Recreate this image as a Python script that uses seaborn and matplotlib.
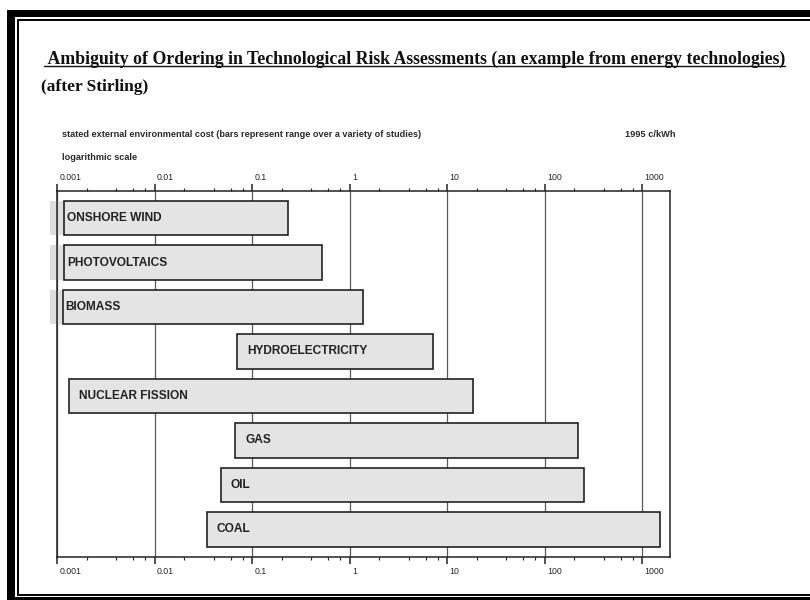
import numpy as np
import pandas as pd
import matplotlib
matplotlib.use("Agg")
import matplotlib.pyplot as plt
import matplotlib.ticker as mticker
from matplotlib.patches import Rectangle
from matplotlib.lines import Line2D
from matplotlib.transforms import ScaledTranslation, blended_transform_factory
import seaborn as sns

# Stated external environmental cost ranges, 1995 c/kWh (log scale)
technologies = ["ONSHORE WIND", "PHOTOVOLTAICS", "BIOMASS", "HYDROELECTRICITY",
                "NUCLEAR FISSION", "GAS", "OIL", "COAL"]
cost_low = [0.00118, 0.00118, 0.00114, 0.0695, 0.00132, 0.067, 0.0475, 0.034]
cost_high = [0.231, 0.52, 1.38, 7.06, 18.5, 219, 254, 1535]

decade_ticks = [0.001, 0.01, 0.1, 1, 10, 100, 1000]
decade_labels = ["0.001", "0.01", "0.1", "1", "10", "100", "1000"]

title_text = " Ambiguity of Ordering in Technological Risk Assessments (an example from energy technologies)"
subtitle_text = "(after Stirling)"
axis_note = "stated external environmental cost (bars represent range over a variety of studies)"
scale_note = "logarithmic scale"
unit_note = "1995 c/kWh"

sns.set_theme(style="white")
plt.rcParams["font.family"] = ["Liberation Sans", "DejaVu Sans"]

W, H = 810, 600
fig = plt.figure(figsize=(W / 100, H / 100), dpi=100)
fig.patch.set_facecolor("white")


def fx(px):
    return px / W


def fy(py):
    return 1 - py / H


def px_offset(dx, dy):
    return ScaledTranslation(dx / 100, dy / 100, fig.dpi_scale_trans)


ax = fig.add_axes([fx(57.3), fy(556.7), (670 - 57.3) / W, (556.7 - 190.7) / H])
ax.set_facecolor("white")

df = pd.DataFrame({"technology": technologies, "low": cost_low, "high": cost_high})
sns.barplot(data=df, x="high", y="technology", orient="h", color="#e4e4e4",
            saturation=1, edgecolor="#222222", linewidth=1.2, width=0.775,
            ax=ax, zorder=3)

# each bar spans the reported range, from the lowest to the highest estimate
for patch, lo, hi in zip(ax.patches, df["low"], df["high"]):
    patch.set_x(lo)
    patch.set_width(hi - lo)

ax.set_xscale("log")
ax.set_xlim(0.001, 1923)
ax.set_ylim(len(technologies) - 1 + 0.615, -0.615)
ax.set_xlabel("")
ax.set_ylabel("")
ax.set_yticks([])

ax.xaxis.set_major_locator(mticker.FixedLocator(decade_ticks))
ax.xaxis.set_major_formatter(mticker.NullFormatter())
ax.xaxis.set_minor_locator(mticker.LogLocator(base=10, subs=(2, 4, 6, 8)))
ax.xaxis.set_minor_formatter(mticker.NullFormatter())
ax.tick_params(axis="x", which="both", top=True, bottom=True, direction="out",
               colors="#222222", labeltop=False, labelbottom=False)
ax.tick_params(axis="x", which="major", length=5.3, width=1.1)
ax.tick_params(axis="x", which="minor", length=2.3, width=0.8)

ax.set_axisbelow(True)
ax.grid(axis="x", which="major", color="#5a5a5a", linewidth=0.9)
ax.grid(axis="y", visible=False)
for side in ["top", "bottom", "left", "right"]:
    ax.spines[side].set_visible(True)
    ax.spines[side].set_color("#222222")
    ax.spines[side].set_linewidth(1.1)

# decade labels, top and bottom, set just to the right of each tick
xt = blended_transform_factory(ax.transData, ax.transAxes)
for v, lab in zip(decade_ticks, decade_labels):
    ax.text(v, 1, lab, transform=xt + px_offset(2, 9), ha="left", va="bottom",
            fontsize=6.3, color="#262626")
    ax.text(v, 0, lab, transform=xt + px_offset(2, -10), ha="left", va="top",
            fontsize=6.3, color="#262626")

# soft grey haze at the left end of the first rows
haze_left = 10 ** (-3 - 7.3 / 97.5)
for i, lo in enumerate(cost_low[:3]):
    ax.add_patch(Rectangle((haze_left, i - 0.3875), lo - haze_left, 0.775,
                           facecolor="#d6d6d6", edgecolor="none", alpha=0.8,
                           zorder=1, clip_on=False))

# technology names inside their bars
for i, (name, lo) in enumerate(zip(technologies, cost_low)):
    pad = 2.5 if lo < 0.00125 else 10
    ax.text(lo, i, name, transform=ax.transData + px_offset(pad, 0),
            ha="left", va="center", fontsize=8.6, fontweight="bold",
            color="#222222", zorder=5)

# header notes above the scale
fig.text(fx(61.7), fy(134), axis_note, ha="left", va="center", fontsize=6.6,
         fontweight="bold", color="#2a2a2a")
fig.text(fx(61.7), fy(158), scale_note, ha="left", va="center", fontsize=6.6,
         fontweight="bold", color="#2a2a2a")
fig.text(fx(625), fy(134), unit_note, ha="left", va="center", fontsize=6.7,
         fontweight="bold", color="#2a2a2a")

serif = ["Liberation Serif", "DejaVu Serif"]
title = fig.text(fx(44), fy(63.5), title_text, ha="left", va="baseline",
                 fontsize=12.75, fontweight="bold", family=serif, color="#111111")
fig.text(fx(41), fy(91), subtitle_text, ha="left", va="baseline",
         fontsize=12.5, fontweight="bold", family=serif, color="#111111")

fig.canvas.draw()
bb = title.get_window_extent(fig.canvas.get_renderer())
fig.add_artist(Line2D([bb.x0 / W, bb.x1 / W], [fy(66), fy(66)],
                      transform=fig.transFigure, color="#111111", linewidth=1.0))

# page frame: heavy outer band with a thin inner rule
frame = [
    (7, 10, 8, 590),      # left band
    (7, 10, 803, 7),      # top band
    (7, 597, 803, 3),     # bottom band
]
for x0, y0, w, h in frame:
    fig.add_artist(Rectangle((fx(x0), fy(y0 + h)), w / W, h / H,
                             transform=fig.transFigure, facecolor="black",
                             edgecolor="none"))
fig.add_artist(Line2D([fx(18), fx(18)], [fy(19.5), fy(594.5)],
                      transform=fig.transFigure, color="black", linewidth=1.4))
fig.add_artist(Line2D([fx(18), fx(810)], [fy(19.5), fy(19.5)],
                      transform=fig.transFigure, color="black", linewidth=1.4))
fig.add_artist(Line2D([fx(18), fx(810)], [fy(594.5), fy(594.5)],
                      transform=fig.transFigure, color="black", linewidth=1.4))

fig.savefig("out.png", dpi=100, facecolor="white")
